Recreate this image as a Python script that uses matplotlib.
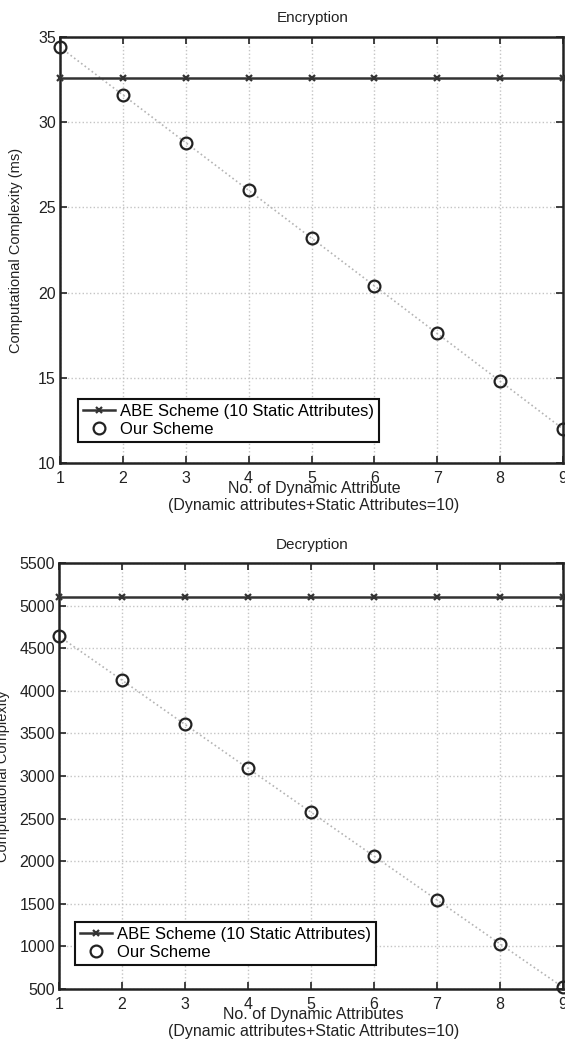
import matplotlib
matplotlib.use("Agg")
import matplotlib.pyplot as plt

plt.rcParams['font.family'] = ['Liberation Sans', 'DejaVu Sans']

x_attrs = [1, 2, 3, 4, 5, 6, 7, 8, 9]
abe_enc = [32.6, 32.6, 32.6, 32.6, 32.6, 32.6, 32.6, 32.6, 32.6]
ours_enc = [34.4, 31.6, 28.8, 26.0, 23.2, 20.4, 17.6, 14.8, 12.0]
abe_dec = [5100, 5100, 5100, 5100, 5100, 5100, 5100, 5100, 5100]
ours_dec = [4640, 4125, 3605, 3090, 2575, 2060, 1545, 1030, 520]

enc_yticks = [10, 15, 20, 25, 30, 35]
dec_yticks = [500, 1000, 1500, 2000, 2500, 3000, 3500, 4000, 4500, 5000, 5500]
xticks = [1, 2, 3, 4, 5, 6, 7, 8, 9]

W, H = 565, 1044
fig = plt.figure(figsize=(W / 100, H / 100), dpi=100)


def axrect(l, t, r, b):
    return [l / W, 1 - b / H, (r - l) / W, (b - t) / H]


ax1 = fig.add_axes(axrect(60, 37, 563, 463))
ax2 = fig.add_axes(axrect(59, 563, 563, 989))

configs = [
    (ax1, abe_enc, ours_enc, enc_yticks, (10, 35), "Encryption",
     "Computational Complexity (ms)", "No. of Dynamic Attribute",
     (0.036, 0.049), -0.073, 18),
    (ax2, abe_dec, ours_dec, dec_yticks, (500, 5500), "Decryption",
     "Computational Complexity", "No. of Dynamic Attributes",
     (0.032, 0.056), -0.097, 545),
]

for ax, abe, ours, yt, ylim, title, ylabel, xl1, legpos, ylx, ty in configs:
    ax.grid(True, linestyle=':', color='#c4c4c4', linewidth=1.0)
    ax.set_axisbelow(True)
    ax.plot(x_attrs, ours, linestyle=':', color='#b4b4b4', linewidth=1.2,
            zorder=2)
    ax.plot(x_attrs, abe, color='#333333', linewidth=1.8, marker='x',
            markersize=5, markeredgewidth=1.6,
            label='ABE Scheme (10 Static Attributes)',
            zorder=3, clip_on=False)
    ax.plot(x_attrs, ours, linestyle='none', marker='o', markersize=8.5,
            markerfacecolor='none', markeredgecolor='#222222',
            markeredgewidth=1.6, label='Our Scheme', zorder=4, clip_on=False)
    ax.set_xlim(1, 9)
    ax.set_ylim(*ylim)
    ax.set_xticks(xticks)
    ax.set_yticks(yt)
    ax.tick_params(direction='in', top=True, right=True, length=5,
                   width=1.2, labelsize=11.5, colors='#222222')
    ax.tick_params(axis='x', pad=6)
    ax.tick_params(axis='y', pad=3)
    for sp in ax.spines.values():
        sp.set_linewidth(1.8)
        sp.set_color('#222222')
    ax.set_xlabel(xl1 + "\n(Dynamic attributes+Static Attributes=10)",
                  fontsize=11.5, linespacing=1.15, color='#222222')
    ax.xaxis.set_label_coords(0.505, -0.042)
    ax.set_ylabel(ylabel, fontsize=10.5, color='#222222')
    ax.yaxis.set_label_coords(ylx, 0.5)
    leg = ax.legend(loc='lower left', bbox_to_anchor=legpos, borderaxespad=0,
                    fancybox=False, framealpha=1, edgecolor='#111111',
                    fontsize=12, handlelength=1.9, handletextpad=0.3,
                    labelspacing=0.2, borderpad=0.3)
    leg.get_frame().set_linewidth(1.5)
    fig.text(0.553, 1 - ty / H, title, ha='center', va='center',
             fontsize=11, color='#222222')

fig.savefig("out.png", dpi=100)
